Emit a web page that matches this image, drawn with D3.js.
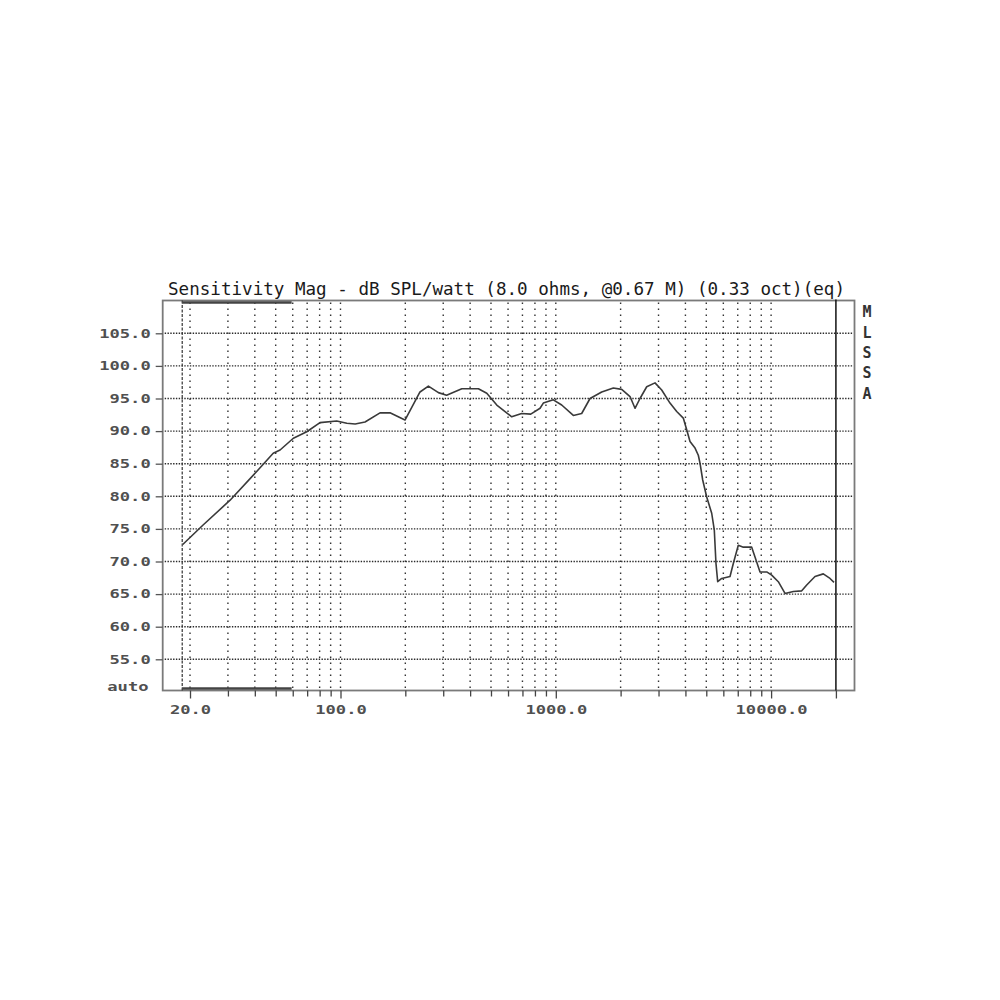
<!DOCTYPE html>
<html>
<head>
<meta charset="utf-8">
<script src="https://cdn.jsdelivr.net/npm/d3@7"></script>
<style>
  body { margin: 0; background: #fff; }
  svg { display: block; }
</style>
</head>
<body>
<div id="chart"></div>
<script>
var freqHz = [18.5, 23, 30.7, 40.8, 48.7, 52.4, 60.4, 69.7, 80.3, 96, 107, 117, 130, 152.6, 169.8, 199.3,
    234, 256, 285, 311, 366, 437, 478, 532, 624, 694, 765, 845, 875, 974, 1065, 1206, 1319, 1442,
    1634, 1850, 2024, 2212, 2333, 2461, 2644, 2889, 3104, 3391, 3644, 3910, 4055, 4201, 4433, 4591,
    4675, 4812, 5022, 5298, 5448, 5546, 5649, 5896, 6444, 6675, 7041, 7430, 8127, 8418, 8882, 9541,
    10065, 10801, 11604, 12684, 13874, 14638, 15992, 17477, 18775, 19600];
var splDb = [72.6, 75.6, 79.4, 83.8, 86.6, 87.1, 88.9, 89.9, 91.3, 91.55, 91.2, 91.1, 91.4, 92.8, 92.8, 91.7,
    96.0, 96.9, 95.9, 95.5, 96.5, 96.5, 95.8, 94.0, 92.2, 92.7, 92.6, 93.5, 94.3, 94.8, 94.0, 92.4, 92.7, 95.0,
    96.0, 96.6, 96.4, 95.3, 93.5, 95.0, 96.8, 97.4, 96.3, 94.3, 93.0, 92.0, 90.2, 88.4, 87.4, 86.3,
    85.1, 82.5, 79.9, 77.4, 74.8, 69.7, 66.9, 67.4, 67.7, 69.7, 72.5, 72.2, 72.2, 70.7, 68.4, 68.4,
    67.9, 66.9, 65.1, 65.4, 65.5, 66.4, 67.7, 68.1, 67.4, 66.8];

var yTicks = [55, 60, 65, 70, 75, 80, 85, 90, 95, 100, 105];
var gridFreqs = [20, 30, 40, 50, 60, 70, 80, 90, 100, 200, 300, 400, 500, 600, 700, 800, 900,
    1000, 2000, 3000, 4000, 5000, 6000, 7000, 8000, 9000, 10000];
var labelFreqs = [20, 100, 1000, 10000];
var startMarkHz = 18.4;   // dashed start line
var gateEndHz = 59.3;     // end of thick bar
var endMarkHz = 20000;    // solid line on the right

var titleText = "Sensitivity Mag - dB SPL/watt (8.0 ohms, @0.67 M) (0.33 oct)(eq)";
var sideText = ["M", "L", "S", "S", "A"];

var width = 1000, height = 1000;
var frame = {left: 162.7, right: 854.5, top: 300.5, bottom: 690.5};
var monoFont = "'DejaVu Sans Mono', 'Liberation Mono', monospace";
var charW = 10.3;

var svg = d3.select("#chart").append("svg")
    .attr("width", width)
    .attr("height", height);

var x = d3.scaleLog().domain([100, 10000]).range([340.5, 771.1]);
var y = d3.scaleLinear().domain([55, 105]).range([659.3, 333.3]);

// frame
svg.append("rect")
    .attr("x", frame.left).attr("y", frame.top)
    .attr("width", frame.right - frame.left)
    .attr("height", frame.bottom - frame.top)
    .attr("fill", "none")
    .attr("stroke", "#7a7a7a")
    .attr("stroke-width", 1.8);

// horizontal grid
svg.append("g").selectAll("line")
    .data(yTicks)
    .enter().append("line")
    .attr("x1", frame.left + 2).attr("x2", frame.right - 1)
    .attr("y1", function(d) { return y(d); })
    .attr("y2", function(d) { return y(d); })
    .attr("stroke", "#2a2a2a")
    .attr("stroke-width", 1.4)
    .attr("stroke-dasharray", "1.4,1.4");

// vertical grid
svg.append("g").selectAll("line")
    .data(gridFreqs)
    .enter().append("line")
    .attr("x1", function(d) { return x(d); })
    .attr("x2", function(d) { return x(d); })
    .attr("y1", frame.top + 2).attr("y2", frame.bottom - 1)
    .attr("stroke", "#333")
    .attr("stroke-width", 1.4)
    .attr("stroke-dasharray", "1.5,4.5");

// start marker (dashed) and end marker (solid)
svg.append("line")
    .attr("x1", x(startMarkHz)).attr("x2", x(startMarkHz))
    .attr("y1", frame.top).attr("y2", frame.bottom)
    .attr("stroke", "#333")
    .attr("stroke-width", 1.2)
    .attr("stroke-dasharray", "3,1.5");

svg.append("line")
    .attr("x1", x(endMarkHz)).attr("x2", x(endMarkHz))
    .attr("y1", frame.top - 1).attr("y2", frame.bottom)
    .attr("stroke", "#111")
    .attr("stroke-width", 1.5);

// thick bars top and bottom
[frame.top + 2, frame.bottom - 2].forEach(function(yy) {
    svg.append("line")
        .attr("x1", x(startMarkHz)).attr("x2", x(gateEndHz))
        .attr("y1", yy).attr("y2", yy)
        .attr("stroke", "#444")
        .attr("stroke-width", 2.6);
});

// axes
var xMinor = d3.axisBottom(x)
    .tickValues(gridFreqs.filter(function(d) { return labelFreqs.indexOf(d) < 0; }))
    .tickSize(6)
    .tickFormat("");
var xMajor = d3.axisBottom(x)
    .tickValues(labelFreqs.concat([endMarkHz]))
    .tickSize(8)
    .tickPadding(7)
    .tickFormat(function(d) { return labelFreqs.indexOf(d) >= 0 ? d3.format(".1f")(d) : ""; });

[xMinor, xMajor].forEach(function(ax) {
    var g = svg.append("g")
        .attr("transform", "translate(0," + frame.bottom + ")")
        .call(ax);
    g.select(".domain").remove();
    g.selectAll(".tick line").attr("stroke", "#444").attr("stroke-width", 1.3);
    g.selectAll(".tick text")
        .attr("font-family", monoFont)
        .attr("font-size", 12)
        .attr("font-weight", "bold")
        .attr("fill", "#505050")
        .attr("textLength", function() { return this.textContent.length * charW; })
        .attr("lengthAdjust", "spacingAndGlyphs");
});

var yAxis = d3.axisLeft(y)
    .tickValues(yTicks)
    .tickSize(7)
    .tickPadding(5)
    .tickFormat(d3.format(".1f"));

var gy = svg.append("g")
    .attr("transform", "translate(" + frame.left + ",0)")
    .call(yAxis);
gy.select(".domain").remove();
gy.selectAll(".tick line").attr("stroke", "#555").attr("stroke-width", 1.3);
gy.selectAll(".tick text")
    .attr("font-family", monoFont)
    .attr("font-size", 12)
    .attr("font-weight", "bold")
    .attr("fill", "#505050")
    .attr("textLength", function() { return this.textContent.length * charW; })
    .attr("lengthAdjust", "spacingAndGlyphs");

svg.append("text")
    .attr("x", 148.5).attr("y", 687)
    .attr("dy", "0.32em")
    .attr("text-anchor", "end")
    .attr("font-family", monoFont)
    .attr("font-size", 12)
    .attr("font-weight", "bold")
    .attr("fill", "#505050")
    .attr("textLength", 4 * charW)
    .attr("lengthAdjust", "spacingAndGlyphs")
    .text("auto");

// response curve
var line = d3.line()
    .x(function(d) { return x(d[0]); })
    .y(function(d) { return y(d[1]); });

svg.append("path")
    .datum(d3.zip(freqHz, splDb))
    .attr("d", line)
    .attr("fill", "none")
    .attr("stroke", "#3a3a3a")
    .attr("stroke-width", 1.6)
    .attr("stroke-linejoin", "round");

// title
svg.append("text")
    .attr("x", 168).attr("y", 295)
    .attr("font-family", monoFont)
    .attr("font-size", 17)
    .attr("fill", "#1a1a1a")
    .attr("textLength", 677)
    .attr("lengthAdjust", "spacingAndGlyphs")
    .text(titleText);

// vertical side label
svg.append("g").selectAll("text")
    .data(sideText)
    .enter().append("text")
    .attr("x", 867)
    .attr("y", function(d, i) { return 312 + i * 20.3; })
    .attr("dy", "0.36em")
    .attr("text-anchor", "middle")
    .attr("font-family", monoFont)
    .attr("font-size", 15)
    .attr("font-weight", "bold")
    .attr("fill", "#333")
    .text(function(d) { return d; });
</script>
</body>
</html>
